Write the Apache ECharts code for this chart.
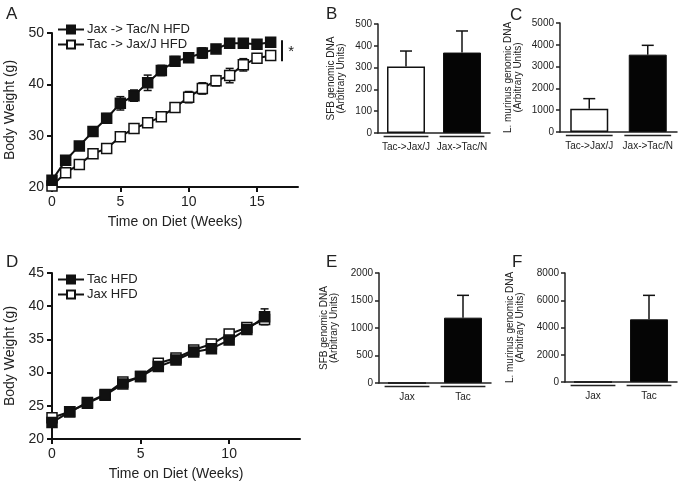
<!DOCTYPE html>
<html>
<head>
<meta charset="utf-8">
<script src="https://cdn.jsdelivr.net/npm/echarts@6/dist/echarts.min.js"></script>
<style>
html,body{margin:0;padding:0;background:#fff;}
#chart{width:678px;height:483px;}
</style>
</head>
<body>
<div id="chart"></div>
<script>
// ---- Panel A data ----
const weeksA = [0,1,2,3,4,5,6,7,8,9,10,11,12,13,14,15,16];
const jaxToTacN = [21.3,25.2,28.0,30.8,33.4,36.3,37.8,40.3,42.7,44.5,45.2,46.1,46.9,48.0,48.0,47.8,48.2];
const jaxToTacNErr = [0.5,0.7,0.8,0.8,0.9,1.3,1.1,1.5,1.0,0.9,0.8,1.0,0.7,0.6,0.6,0.8,0.7];
const tacToJaxJ = [20.2,22.8,24.4,26.5,27.5,29.8,31.4,32.5,33.7,35.5,37.5,39.2,40.7,41.7,43.8,45.1,45.6];
const tacToJaxJErr = [0.4,0.5,0.5,0.5,0.5,0.6,0.7,0.6,0.6,0.8,1.1,1.1,1.0,1.4,1.2,0.8,0.8];
// ---- Panel D data ----
const weeksD = [0,1,2,3,4,5,6,7,8,9,10,11,12];
const tacHFD = [22.5,24.1,25.4,26.6,28.3,29.4,30.9,31.9,33.1,33.6,34.9,36.5,38.4];
const tacHFDErr = [0.4,0.3,0.3,0.3,0.4,0.3,0.4,0.4,0.4,0.5,0.6,0.6,1.2];
const jaxHFD = [23.2,24.1,25.5,26.7,28.6,29.4,31.4,32.2,33.4,34.3,35.8,36.8,38.0];
const jaxHFDErr = [0.3,0.3,0.3,0.3,0.4,0.3,0.4,0.4,0.4,0.4,0.5,0.5,0.7];
// ---- Bar panels ----
const transferCats = ['Tac->Jax/J','Jax->Tac/N'];
const sfbTransfer = [305,369];
const sfbTransferErr = [71,99];
const lmTransfer = [1070,3548];
const lmTransferErr = [460,428];
const strainCats = ['Jax','Tac'];
const sfbStrain = [0,1188];
const sfbStrainErr = [0,406];
const lmStrain = [0,4600];
const lmStrainErr = [0,1760];
// ---- tick labels ----
const ticksA_x = [0,5,10,15];
const ticksD_x = [0,5,10];

const FONT = "'Liberation Sans', Arial, sans-serif";
const INK = '#111';
const chart = echarts.init(document.getElementById('chart'));

function pairs(xs, ys){ return xs.map((x,i)=>[x, ys[i]]); }
function triples(xs, ys, es){ return xs.map((x,i)=>[x, ys[i], es[i]]); }

function errLine(params, api){
  const x = api.value(0), y = api.value(1), e = api.value(2);
  const t = api.coord([x, y+e]), b = api.coord([x, y-e]);
  const hw = 4, st = {stroke:INK, lineWidth:1.5};
  return {type:'group', children:[
    {type:'line', shape:{x1:t[0],y1:t[1],x2:b[0],y2:b[1]}, style:st},
    {type:'line', shape:{x1:t[0]-hw,y1:t[1],x2:t[0]+hw,y2:t[1]}, style:st},
    {type:'line', shape:{x1:b[0]-hw,y1:b[1],x2:b[0]+hw,y2:b[1]}, style:st}
  ]};
}
function errBar(params, api){
  const x = api.value(0), y = api.value(1), e = api.value(2);
  if (!e) return null;
  const t = api.coord([x, y+e]), b = api.coord([x, y]);
  const hw = 6, st = {stroke:INK, lineWidth:1.5};
  return {type:'group', children:[
    {type:'line', shape:{x1:t[0],y1:t[1],x2:b[0],y2:b[1]}, style:st},
    {type:'line', shape:{x1:t[0]-hw,y1:t[1],x2:t[0]+hw,y2:t[1]}, style:st}
  ]};
}
function underline(params, api){
  const c = api.coord([api.value(0), 0]);
  const bw = api.size([1,0])[0];
  const y = c[1] + 3.5;
  return {type:'line', shape:{x1:c[0]-bw*0.4, y1:y, x2:c[0]+bw*0.4, y2:y}, style:{stroke:'#222', lineWidth:1.5}};
}

function lineXAxis(gi, max, ticks){
  return {type:'value', gridIndex:gi, min:0, max:max,
    axisLine:{show:true, lineStyle:{color:INK, width:2}},
    axisTick:{show:true, length:5, lineStyle:{color:INK, width:2}, customValues:ticks},
    axisLabel:{fontSize:14, color:'#222', fontFamily:FONT, margin:8, customValues:ticks},
    splitLine:{show:false},
    name:'Time on Diet (Weeks)', nameLocation:'middle', nameGap:28,
    nameTextStyle:{fontSize:14, color:'#222', fontFamily:FONT}};
}
function lineYAxis(gi, min, max, interval){
  return {type:'value', gridIndex:gi, min:min, max:max, interval:interval,
    axisLine:{show:true, lineStyle:{color:INK, width:2}},
    axisTick:{show:true, length:5, lineStyle:{color:INK, width:2}},
    axisLabel:{fontSize:14, color:'#222', fontFamily:FONT, margin:8},
    splitLine:{show:false},
    name:'Body Weight (g)', nameLocation:'middle', nameGap:35,
    nameTextStyle:{fontSize:14, color:'#222', fontFamily:FONT}};
}
function barXAxis(gi, cats){
  return {type:'category', gridIndex:gi, data:cats,
    axisLine:{show:true, lineStyle:{color:'#222', width:1.5}},
    axisTick:{show:false},
    axisLabel:{fontSize:10, color:'#222', fontFamily:FONT, margin:9, interval:0}};
}
function barYAxis(gi, max, interval, name, gap){
  return {type:'value', gridIndex:gi, min:0, max:max, interval:interval,
    axisLine:{show:true, lineStyle:{color:'#222', width:1.5}},
    axisTick:{show:true, length:4, lineStyle:{color:'#222', width:1.5}},
    axisLabel:{fontSize:10, color:'#222', fontFamily:FONT, margin:6, formatter:(v)=>String(v)},
    splitLine:{show:false},
    name:name, nameLocation:'middle', nameGap:gap,
    nameTextStyle:{fontSize:10, color:'#222', fontFamily:FONT, lineHeight:10}};
}
function barItems(vals){
  return vals.map((v,i)=> i===0
    ? {value:v, itemStyle:{color:'#fff', borderColor:INK, borderWidth:1.5}}
    : {value:v, itemStyle:{color:'#050505', borderColor:INK, borderWidth:1}});
}
function barSet(gi, vals, errs){
  return [
    {type:'bar', xAxisIndex:gi, yAxisIndex:gi, data:barItems(vals), barWidth:38, silent:true, z:2},
    {type:'custom', xAxisIndex:gi, yAxisIndex:gi, renderItem:errBar, data:vals.map((v,i)=>[i,v,errs[i]]), z:3, silent:true},
    {type:'custom', xAxisIndex:gi, yAxisIndex:gi, renderItem:underline, data:vals.map((v,i)=>[i]), z:3, silent:true}
  ];
}
function lineSeries(name, gi, xs, ys, filled){
  return {type:'line', name:name, xAxisIndex:gi, yAxisIndex:gi, data:pairs(xs, ys),
    symbol:'rect', symbolSize:10, showAllSymbol:true,
    lineStyle:{color:INK, width:2},
    itemStyle:{color: filled ? '#111' : '#fff', borderColor:INK, borderWidth:1.5},
    z: filled ? 5 : 4, silent:true};
}
function errSeries(gi, xs, ys, es){
  return {type:'custom', xAxisIndex:gi, yAxisIndex:gi, renderItem:errLine, data:triples(xs, ys, es), z:1, silent:true};
}

const nameA1 = 'Jax -> Tac/N HFD', nameA2 = 'Tac -> Jax/J HFD';
const nameD1 = 'Tac HFD', nameD2 = 'Jax HFD';

const openA = lineSeries(nameA2, 0, weeksA, tacToJaxJ, false);
openA.markLine = {silent:true, symbol:'none', label:{show:false},
  lineStyle:{color:INK, width:2, type:'solid'},
  data:[[{coord:[16.8,48.6]},{coord:[16.8,44.5]}]]};
openA.markPoint = {silent:true, symbol:'circle', symbolSize:0,
  label:{show:true, formatter:'*', fontSize:15, color:'#222', fontFamily:FONT, position:'inside'},
  data:[{coord:[17.5,46.4]}]};

const option = {
  animation:false,
  backgroundColor:'#fff',
  textStyle:{fontFamily:FONT},
  title:[
    {text:'A', left:1, top:1, textStyle:{fontSize:17, fontWeight:'normal', color:'#222', fontFamily:FONT}},
    {text:'B', left:321, top:1, textStyle:{fontSize:17, fontWeight:'normal', color:'#222', fontFamily:FONT}},
    {text:'C', left:505, top:2, textStyle:{fontSize:17, fontWeight:'normal', color:'#222', fontFamily:FONT}},
    {text:'D', left:1, top:249, textStyle:{fontSize:17, fontWeight:'normal', color:'#222', fontFamily:FONT}},
    {text:'E', left:321, top:249, textStyle:{fontSize:17, fontWeight:'normal', color:'#222', fontFamily:FONT}},
    {text:'F', left:507, top:249, textStyle:{fontSize:17, fontWeight:'normal', color:'#222', fontFamily:FONT}}
  ],
  legend:[
    {left:52, top:18, orient:'vertical', itemGap:2, itemWidth:26, itemHeight:10,
     data:[nameA1, nameA2], textStyle:{fontSize:13, color:'#222', fontFamily:FONT, padding:[0,0,0,-2]}},
    {left:52, top:268, orient:'vertical', itemGap:2, itemWidth:26, itemHeight:10,
     data:[nameD1, nameD2], textStyle:{fontSize:13, color:'#222', fontFamily:FONT, padding:[0,0,0,-2]}}
  ],
  grid:[
    {left:52, top:33, width:246, height:154},
    {left:378, top:24, width:112, height:109},
    {left:560, top:23, width:117, height:109},
    {left:52, top:273, width:248, height:166},
    {left:379, top:273, width:112, height:110},
    {left:565, top:273, width:112, height:109}
  ],
  xAxis:[
    lineXAxis(0, 18, ticksA_x),
    barXAxis(1, transferCats),
    barXAxis(2, transferCats),
    lineXAxis(3, 14, ticksD_x),
    barXAxis(4, strainCats),
    barXAxis(5, strainCats)
  ],
  yAxis:[
    lineYAxis(0, 20, 50, 10),
    barYAxis(1, 500, 100, 'SFB genomic DNA\n(Arbitrary Units)', 32),
    barYAxis(2, 5000, 1000, 'L. murinus genomic DNA\n(Arbitrary Units)', 37),
    lineYAxis(3, 20, 45, 5),
    barYAxis(4, 2000, 500, 'SFB genomic DNA\n(Arbitrary Units)', 40),
    barYAxis(5, 8000, 2000, 'L. murinus genomic DNA\n(Arbitrary Units)', 40)
  ],
  series:[
    errSeries(0, weeksA, jaxToTacN, jaxToTacNErr),
    errSeries(0, weeksA, tacToJaxJ, tacToJaxJErr),
    lineSeries(nameA1, 0, weeksA, jaxToTacN, true),
    openA,
    ...barSet(1, sfbTransfer, sfbTransferErr),
    ...barSet(2, lmTransfer, lmTransferErr),
    errSeries(3, weeksD, tacHFD, tacHFDErr),
    errSeries(3, weeksD, jaxHFD, jaxHFDErr),
    lineSeries(nameD2, 3, weeksD, jaxHFD, false),
    lineSeries(nameD1, 3, weeksD, tacHFD, true),
    ...barSet(4, sfbStrain, sfbStrainErr),
    ...barSet(5, lmStrain, lmStrainErr)
  ]
};
chart.setOption(option);
</script>
</body>
</html>
